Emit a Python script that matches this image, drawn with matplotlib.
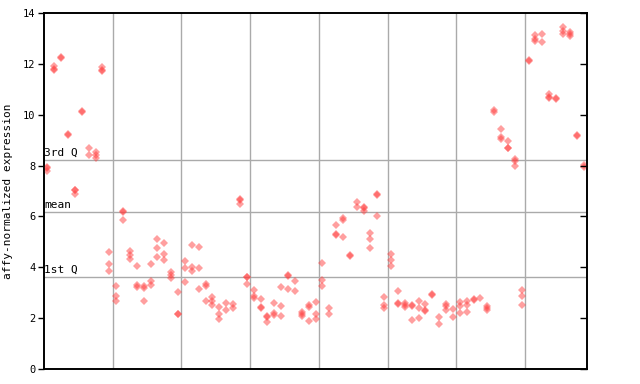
import matplotlib
matplotlib.use("Agg")
import matplotlib.pyplot as plt

# Expression values per sample (replicates), eight tissue groups of samples
group1 = [[7.96, 7.92, 7.80], [11.93, 11.80, 11.74], [12.27, 12.25], [9.24, 9.20],
          [7.05, 7.02, 6.87], [10.13, 10.10], [8.68, 8.42], [8.55, 8.42, 8.30],
          [11.89, 11.76, 11.72], [4.59, 4.12, 3.84]]
group2 = [[3.25, 2.86, 2.66], [6.20, 6.16, 5.85], [4.66, 4.49, 4.31], [4.04, 3.29, 3.21],
          [3.25, 3.17, 2.66], [4.12, 3.45, 3.29], [5.10, 4.75, 4.39], [4.94, 4.51, 4.27],
          [3.83, 3.70, 3.57], [3.02, 2.18, 2.15]]
group3 = [[4.23, 3.96, 3.41], [4.86, 4.00, 3.84], [4.78, 3.96, 3.13], [3.33, 3.27, 2.66],
          [2.82, 2.66, 2.50], [2.43, 2.15, 1.95], [2.58, 2.31], [2.54, 2.39],
          [6.67, 6.63, 6.47], [3.63, 3.60, 3.33]]
group4 = [[3.09, 2.86, 2.78], [2.74, 2.42, 2.40], [2.10, 2.06, 1.84], [2.58, 2.19, 2.11],
          [3.21, 2.46, 2.07], [3.68, 3.65, 3.13], [3.45, 3.05], [2.25, 2.15, 2.07],
          [2.50, 2.42, 1.87], [2.62, 2.15, 1.95]]
group5 = [[4.15, 3.49, 3.25], [2.39, 2.15], [5.65, 5.30, 5.26], [5.92, 5.85, 5.18],
          [4.47, 4.43], [6.55, 6.36], [6.36, 6.33, 6.20], [5.33, 5.10, 4.75],
          [6.87, 6.85, 6.00], [2.82, 2.50, 2.39]]
group6 = [[4.51, 4.27, 4.04], [3.05, 2.58, 2.56], [2.58, 2.50, 2.42], [2.50, 2.48, 1.91],
          [2.66, 2.39, 1.99], [2.54, 2.31, 2.27], [2.93, 2.90], [2.03, 1.76],
          [2.54, 2.46, 2.31], [2.35, 2.03]]
group7 = [[2.62, 2.46, 2.19], [2.66, 2.50, 2.23], [2.74, 2.72], [2.78],
          [2.46, 2.39, 2.31], [10.17, 10.10], [9.42, 9.11, 9.03], [8.95, 8.71, 8.69],
          [8.25, 8.18, 7.97], [3.09, 2.86, 2.50]]
group8 = [[12.14, 12.10], [13.12, 12.96, 12.88], [13.19, 12.84], [10.80, 10.68, 10.66],
          [10.64, 10.62], [13.43, 13.28, 13.19], [13.24, 13.16, 13.08], [9.19, 9.16],
          [8.04, 7.95]]

groups = [group1, group2, group3, group4, group5, group6, group7, group8]

# Reference statistics
q3_value = 8.21
mean_value = 6.19
q1_value = 3.62
stat_labels = ["3rd Q", "mean", "1st Q"]
yticks = [0, 2, 4, 6, 8, 10, 12, 14]

fig = plt.figure(figsize=(6.4, 3.84), dpi=100)
ax = fig.add_axes([44 / 640, 15 / 384, 543 / 640, 356 / 384])

mono = "DejaVu Sans Mono"
red = "#ff4040"

xs, ys = [], []
idx = 0
for g in groups:
    for sample in g:
        for v in sample:
            xs.append(idx)
            ys.append(v)
        idx += 1

ax.plot(xs, ys, linestyle="none", marker="D", markersize=4.2,
        markerfacecolor=red, markeredgewidth=0, alpha=0.5, zorder=3)

# vertical separators between groups
for k in range(1, len(groups)):
    ax.axvline(10 * k - 0.5, color="#aaaaaa", linewidth=1.0, zorder=1)

for val, lab in zip([q3_value, mean_value, q1_value], stat_labels):
    ax.axhline(val, color="#aaaaaa", linewidth=1.0, zorder=1)
    ax.text(-0.5, val + 0.08, lab, family=mono, fontsize=8, ha="left", va="bottom",
            color="black", zorder=2)

ax.set_xlim(-0.5, 78.5)
ax.set_ylim(0, 14)
ax.set_xticks([])
ax.set_yticks(yticks)
ax.set_yticklabels([str(t) for t in yticks], family=mono, fontsize=7.5)
ax.tick_params(axis="y", direction="out", length=4, width=1, pad=2, colors="black")
ax.set_ylabel("affy-normalized expression", family=mono, fontsize=8, labelpad=7)

ax2 = ax.twinx()
ax2.set_ylim(0, 14)
ax2.set_yticks(yticks)
ax2.set_yticklabels([])
ax2.tick_params(axis="y", direction="in", length=5, width=1)

for a in (ax, ax2):
    for s in a.spines.values():
        s.set_linewidth(1.2)
        s.set_color("black")

fig.savefig("out.png", dpi=100)
